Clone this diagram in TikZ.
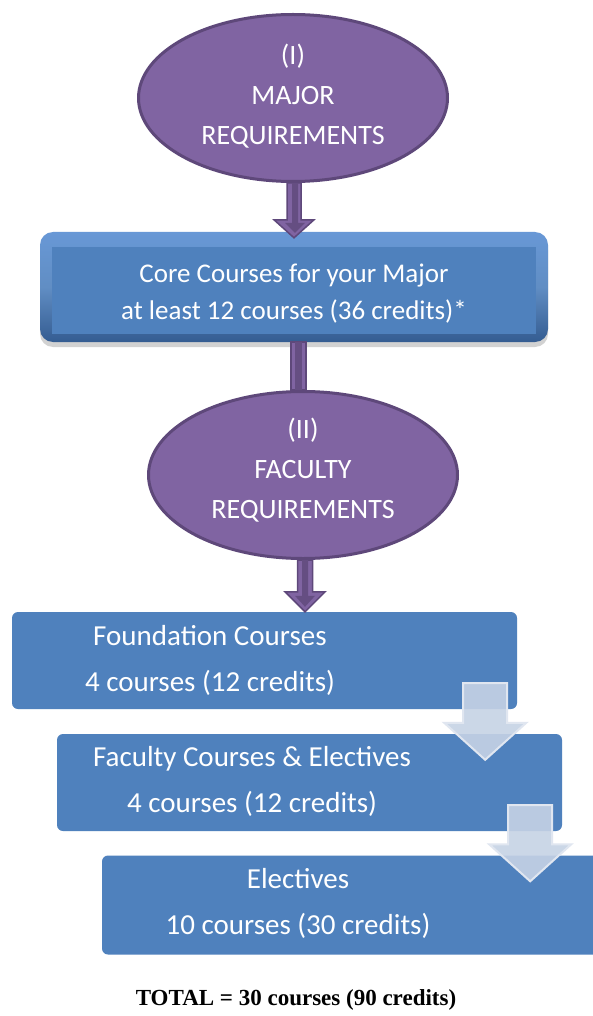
\documentclass[tikz,border=0pt]{standalone}
\usepackage{fontspec}
\setmainfont{Carlito}
\newfontfamily\totalfont{Liberation Serif}
\usetikzlibrary{shapes.geometric,calc,shadows}
\definecolor{purp}{RGB}{128,100,162}
\definecolor{purpdark}{RGB}{94,72,122}
\definecolor{blu}{RGB}{79,129,189}
\definecolor{blutop}{RGB}{104,152,214}
\definecolor{blubot}{RGB}{52,92,145}
\definecolor{pale}{RGB}{198,211,229}
\definecolor{paleline}{RGB}{224,230,240}

% block arrow: style, from, tip, half shaft, half head, head length
\newcommand{\blockarrow}[6]{%
  \path[#1] let \p1=(#2), \p2=(#3) in
    (\x2-#4,\y1) -- (\x2-#4,\y2+#6) -- (\x2-#5,\y2+#6) -- (\x2,\y2)
    -- (\x2+#5,\y2+#6) -- (\x2+#4,\y2+#6) -- (\x2+#4,\y1) -- cycle;}

\begin{document}
\begin{tikzpicture}[x=1pt,y=-1pt,
  reqoval/.style={ellipse,draw=purpdark,line width=3pt,fill=purp,minimum width=309pt,
    minimum height=167pt,inner sep=0pt,text=white,align=center,font=\fontsize{28}{40}\selectfont},
  corebox/.style={rectangle,rounded corners=13pt,minimum width=508pt,minimum height=110pt,
    top color=blutop,bottom color=blubot,middle color=blu!90!white,text=white,align=center,
    font=\fontsize{27}{37}\selectfont,
    drop shadow={shadow xshift=0pt,shadow yshift=-5pt,opacity=0.35},
    path picture={\fill[blu,sharp corners] ($(path picture bounding box.north west)+(12pt,-15pt)$)
      rectangle ($(path picture bounding box.south east)+(-12pt,8pt)$);}},
  stagebox/.style={rectangle,fill=blu,rounded corners=6pt,minimum width=505pt,
    minimum height=97pt,inner sep=0pt},
  stagetext/.style={text=white,align=center,font=\fontsize{29}{46}\selectfont},
  purparrow/.style={fill=purp,draw=purpdark,line width=1.5pt},
  purpinner/.style={fill=purpdark!80!purp},
  palearrow/.style={fill=pale,fill opacity=0.9,draw=paleline,line width=2pt}]
  \useasboundingbox (0,0) rectangle (593,1016);
  \fill[white] (0,0) rectangle (593,1016);
  \clip (0,0) rectangle (593,1016);

  % major part
  \node[reqoval] (major) at (293,98) {(I)\\MAJOR\\REQUIREMENTS\\[-32pt]\mbox{}};
  \node[corebox] (core) at (294,287) {\mbox{}\\[-5pt]Core Courses for your Major\\at least 12 courses (36 credits)*};
  \node[reqoval] (fac) at (303,475) {(II)\\FACULTY\\REQUIREMENTS\\[-26pt]\mbox{}};

  % faculty part
  \node[stagebox] (found) at (264.5,660.5) {};
  \node[stagebox] (facbox) at (309.5,782.5) {};
  \node[stagebox,minimum height=99pt] (elec) at (354.5,905) {};
  \node[stagetext] (found-txt) at (210,660) {Foundation Courses\\4 courses (12 credits)};
  \node[stagetext] (facbox-txt) at (252,781) {Faculty Courses \& Electives\\4 courses (12 credits)};
  \node[stagetext] (elec-txt) at (298,903.5) {Electives\\10 courses (30 credits)};

  % arrows
  \blockarrow{purparrow}{major.south}{$(core.north)+(0,-6pt)$}{7pt}{20pt}{18pt}
  \blockarrow{purpinner}{major.south}{$(core.north)+(1pt,-1pt)$}{3pt}{10pt}{10pt}
  \fill[purp,draw=purpdark,line width=1.5pt] ($(core.south)+(-3pt,0)$) rectangle ($(fac.north)+(3pt,0)$);
  \fill[purpinner] ($(core.south)+(1pt,0)$) rectangle ($(fac.north)+(-1pt,0)$);
  \blockarrow{purparrow}{fac.south}{$(fac.south |- found.north)+(2pt,0)$}{7.5pt}{20pt}{20pt}
  \blockarrow{purpinner}{fac.south}{$(fac.south |- found.north)+(2pt,5pt)$}{3pt}{10pt}{11pt}
  \coordinate (s1) at ($(found.south east)+(-32pt,26pt)$);
  \coordinate (t1) at ($(found.south east |- facbox.north)+(-32pt,-26pt)$);
  \coordinate (s2) at ($(facbox.south east)+(-32pt,26pt)$);
  \coordinate (t2) at ($(facbox.south east |- elec.north)+(-32pt,-26pt)$);
  \blockarrow{palearrow}{s1}{t1}{22pt}{41pt}{37pt}
  \blockarrow{palearrow}{s2}{t2}{22pt}{41pt}{37pt}

  %total
  \node[font=\totalfont\bfseries\fontsize{23}{28}\selectfont] (total) at (296,1000) {TOTAL = 30 courses (90 credits)};
\end{tikzpicture}
\end{document}
